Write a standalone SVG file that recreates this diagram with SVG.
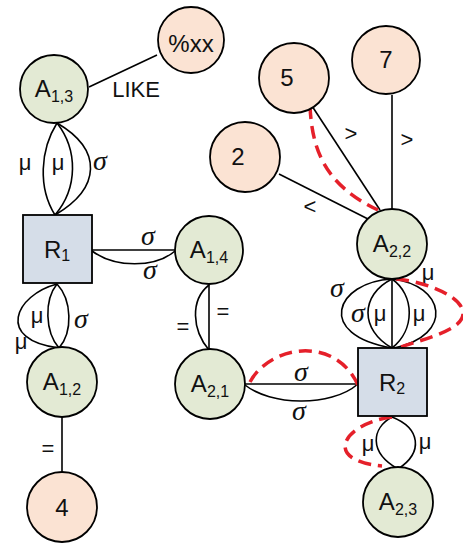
<svg xmlns="http://www.w3.org/2000/svg" width="463" height="543" viewBox="0 0 463 543">
  <style>
    .attr { fill: #e3ead4; stroke: #000; stroke-width: 1.8; }
    .val { fill: #fbe3d3; stroke: #000; stroke-width: 1.8; }
    .rel { fill: #d5dde8; stroke: #000; stroke-width: 1.8; }
    .lbl { font-family: "Liberation Sans", Arial, sans-serif; font-size: 24px; fill: #111; text-anchor: middle; }
    .sub { font-size: 16px; }
    .edge { fill: none; stroke: #000; stroke-width: 1.6; }
    .path { fill: none; stroke: #e5202a; stroke-width: 3.5; stroke-dasharray: 13 7; }
    .mu { font-family: "Liberation Sans", Arial, sans-serif; font-size: 22px; fill: #111; text-anchor: middle; }
    .sg { font-family: "Liberation Serif", "Times New Roman", serif; font-style: italic; font-size: 28px; fill: #111; text-anchor: middle; }
    .op { font-family: "Liberation Sans", Arial, sans-serif; font-size: 22px; fill: #111; text-anchor: middle; }
  </style>

  <!-- connectors -->
  <g id="connectors">
    <!-- A1,3 – %xx -->
    <line class="edge" x1="89" y1="87" x2="157" y2="55"/>
    <text class="op" x="136" y="97">LIKE</text>

    <!-- A1,3 – R1 -->
    <path class="edge" d="M57,123 C40,150 38,188 55,215"/>
    <path class="edge" d="M57,123 C78,150 78,188 55,215"/>
    <path class="edge" d="M57,123 C103,150 101,188 55,215"/>
    <text class="mu" x="25" y="170">μ</text>
    <text class="mu" x="58" y="170">μ</text>
    <text class="sg" x="100" y="170">σ</text>

    <!-- R1 – A1,4 -->
    <line class="edge" x1="92" y1="250" x2="175" y2="250"/>
    <path class="edge" d="M92,251 C115,268 155,268 175,251"/>
    <text class="sg" x="148" y="245">σ</text>
    <text class="sg" x="150" y="279">σ</text>

    <!-- R1 – A1,2 -->
    <path class="edge" d="M57,284 C44,300 45,332 59,348"/>
    <path class="edge" d="M57,284 C72,300 73,332 59,348"/>
    <path class="edge" d="M57,284 C15,295 -5,340 59,348"/>
    <text class="mu" x="37" y="323">μ</text>
    <text class="mu" x="21" y="349">μ</text>
    <text class="sg" x="81" y="328">σ</text>

    <!-- A1,2 – 4 -->
    <line class="edge" x1="62" y1="417" x2="62" y2="472"/>
    <text class="op" x="48" y="456">=</text>

    <!-- A1,4 – A2,1 -->
    <line class="edge" x1="209" y1="284" x2="209" y2="350"/>
    <path class="edge" d="M209,285 C190,300 192,330 209,350"/>
    <text class="op" x="223" y="319">=</text>
    <text class="op" x="183" y="334">=</text>

    <!-- A2,1 – R2 -->
    <line class="edge" x1="245" y1="384" x2="358" y2="384"/>
    <path class="edge" d="M245,385 C270,405 330,408 358,384"/>
    <text class="sg" x="301" y="381">σ</text>
    <text class="sg" x="299" y="420">σ</text>

    <!-- 2, 5, 7 – A2,2 -->
    <line class="edge" x1="279" y1="174" x2="368" y2="219"/>
    <line class="edge" x1="312" y1="106" x2="380" y2="210"/>
    <line class="edge" x1="392" y1="95" x2="392" y2="209"/>
    <text class="op" x="310" y="214">&lt;</text>
    <text class="op" x="351" y="141">&gt;</text>
    <text class="op" x="407" y="147">&gt;</text>

    <!-- A2,2 – R2 -->
    <line class="edge" x1="392" y1="279" x2="392" y2="348"/>
    <path class="edge" d="M392,279 C360,295 360,330 392,348"/>
    <path class="edge" d="M392,279 C415,295 415,330 392,348"/>
    <path class="edge" d="M392,279 C335,282 315,335 392,348"/>
    <path class="edge" d="M392,279 C445,285 455,335 394,348"/>
    <text class="sg" x="337" y="297">σ</text>
    <text class="sg" x="358" y="322">σ</text>
    <text class="mu" x="380" y="321">μ</text>
    <text class="mu" x="419" y="321">μ</text>
    <text class="mu" x="428" y="280">μ</text>

    <!-- R2 – A2,3 -->
    <path class="edge" d="M392,417 C372,428 368,452 398,469"/>
    <path class="edge" d="M392,417 C420,428 424,452 398,469"/>
    <text class="mu" x="368" y="451">μ</text>
    <text class="mu" x="425" y="449">μ</text>

    <!-- highlighted join path -->
    <path class="path" d="M310,106 C312,150 325,185 378,210"/>
    <path class="path" d="M396,279 C430,282 470,300 462,318 C456,332 420,340 401,347"/>
    <path class="path" d="M250,382 C270,345 335,335 358,385"/>
    <path class="path" d="M392,417 C345,423 320,460 382,466"/>
  </g>

  <!-- nodes -->
  <g id="node-xx">
    <circle class="val" cx="191" cy="40" r="33"/>
    <text class="lbl" x="191" y="52">%xx</text>
  </g>
  <g id="node-A13">
    <circle class="attr" cx="54" cy="89" r="34"/>
    <text class="lbl" x="54" y="97">A<tspan class="sub" dy="5">1,3</tspan></text>
  </g>
  <g id="node-R1">
    <rect class="rel" x="23" y="215" width="69" height="68"/>
    <text class="lbl" x="57" y="258">R<tspan class="sub" dy="3">1</tspan></text>
  </g>
  <g id="node-A14">
    <circle class="attr" cx="209" cy="250" r="34"/>
    <text class="lbl" x="209" y="258">A<tspan class="sub" dy="5">1,4</tspan></text>
  </g>
  <g id="node-A12">
    <circle class="attr" cx="62" cy="382" r="35"/>
    <text class="lbl" x="62" y="390">A<tspan class="sub" dy="5">1,2</tspan></text>
  </g>
  <g id="node-4">
    <circle class="val" cx="62" cy="507" r="35"/>
    <text class="lbl" x="62" y="516">4</text>
  </g>
  <g id="node-A21">
    <circle class="attr" cx="210" cy="384" r="35"/>
    <text class="lbl" x="210" y="392">A<tspan class="sub" dy="5">2,1</tspan></text>
  </g>
  <g id="node-R2">
    <rect class="rel" x="358" y="348" width="69" height="68"/>
    <text class="lbl" x="392" y="391">R<tspan class="sub" dy="3">2</tspan></text>
  </g>
  <g id="node-A23">
    <circle class="attr" cx="398" cy="502" r="35"/>
    <text class="lbl" x="398" y="510">A<tspan class="sub" dy="5">2,3</tspan></text>
  </g>
  <g id="node-A22">
    <circle class="attr" cx="392" cy="244" r="35"/>
    <text class="lbl" x="392" y="252">A<tspan class="sub" dy="5">2,2</tspan></text>
  </g>
  <g id="node-7">
    <circle class="val" cx="386" cy="60" r="34"/>
    <text class="lbl" x="386" y="68">7</text>
  </g>
  <g id="node-5">
    <circle class="val" cx="294" cy="78" r="35"/>
    <text class="lbl" x="287" y="86">5</text>
  </g>
  <g id="node-2">
    <circle class="val" cx="245" cy="157" r="35"/>
    <text class="lbl" x="238" y="165">2</text>
  </g>
</svg>
